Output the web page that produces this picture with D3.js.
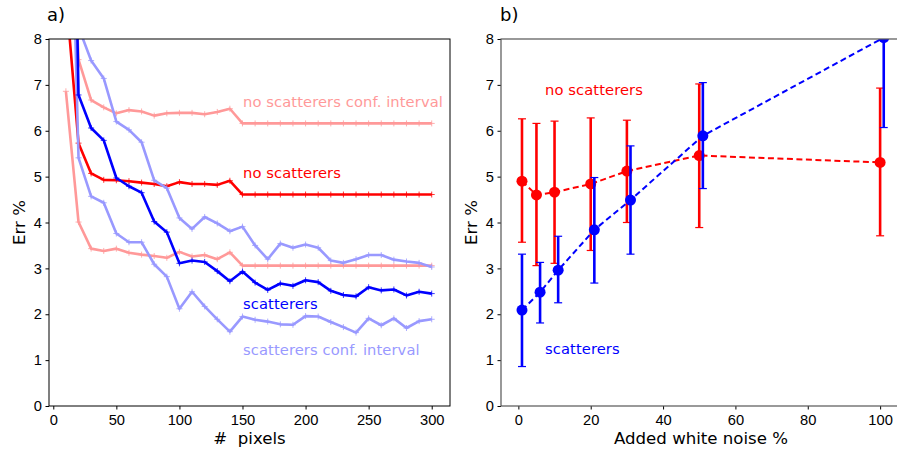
<!DOCTYPE html>
<html>
<head>
<meta charset="utf-8">
<script src="https://cdn.jsdelivr.net/npm/d3@7"></script>
<style>
  body { margin: 0; background: #fff; }
  svg { font-family: "DejaVu Sans", sans-serif; }
</style>
</head>
<body>
<div id="chart"></div>
<script>
// Panel a) : error vs number of pixels
const pixels = d3.range(10, 301, 10);

const noScatt      = [9.0, 5.73, 5.07, 4.93, 4.92, 4.90, 4.87, 4.84, 4.79, 4.88, 4.84, 4.84, 4.82, 4.91, 4.61,
                      4.61, 4.61, 4.61, 4.61, 4.61, 4.61, 4.61, 4.61, 4.61, 4.61, 4.61, 4.61, 4.61, 4.61, 4.61];
const noScattHi    = [14, 7.55, 6.67, 6.51, 6.38, 6.45, 6.42, 6.33, 6.38, 6.39, 6.39, 6.36, 6.41, 6.48, 6.16,
                      6.16, 6.16, 6.16, 6.16, 6.16, 6.16, 6.16, 6.16, 6.16, 6.16, 6.16, 6.16, 6.16, 6.16, 6.16];
const noScattLo    = [6.86, 4.01, 3.43, 3.38, 3.43, 3.34, 3.30, 3.27, 3.23, 3.36, 3.26, 3.29, 3.20, 3.35, 3.06,
                      3.06, 3.06, 3.06, 3.06, 3.06, 3.06, 3.06, 3.06, 3.06, 3.06, 3.06, 3.06, 3.06, 3.06, 3.06];
const scatt        = [22, 6.78, 6.06, 5.79, 4.97, 4.79, 4.65, 4.02, 3.79, 3.11, 3.17, 3.14, 2.94, 2.72, 2.93,
                      2.69, 2.53, 2.67, 2.62, 2.74, 2.70, 2.51, 2.42, 2.39, 2.59, 2.52, 2.54, 2.41, 2.49, 2.45];
const scattHi      = [28, 8.26, 7.53, 7.14, 6.20, 6.02, 5.75, 4.92, 4.75, 4.10, 3.86, 4.12, 3.98, 3.81, 3.91,
                      3.50, 3.20, 3.54, 3.45, 3.52, 3.45, 3.17, 3.12, 3.20, 3.29, 3.29, 3.19, 3.15, 3.12, 3.03];
const scattLo      = [16, 5.41, 4.57, 4.43, 3.76, 3.57, 3.57, 3.09, 2.82, 2.12, 2.49, 2.17, 1.89, 1.62, 1.95,
                      1.88, 1.84, 1.78, 1.77, 1.96, 1.95, 1.83, 1.72, 1.60, 1.91, 1.76, 1.91, 1.70, 1.85, 1.89];

// Panel b) : error vs added white noise
const noiseRed   = [1, 5, 10, 20, 30, 50, 100];
const errRed     = [4.90, 4.60, 4.66, 4.84, 5.12, 5.46, 5.31];
const errRedLo   = [3.57, 3.06, 3.11, 3.39, 4.00, 3.89, 3.71];
const errRedHi   = [6.26, 6.16, 6.21, 6.28, 6.23, 7.02, 6.93];
const noiseBlue  = [1, 6, 11, 21, 31, 51, 101];
const errBlue    = [2.09, 2.48, 2.96, 3.84, 4.49, 5.89, 8.03];
const errBlueLo  = [0.86, 1.81, 2.25, 2.68, 3.31, 4.74, 6.07];
const errBlueHi  = [3.31, 3.13, 3.70, 4.98, 5.67, 7.05, 9.9];

// tick labels
const yTicks = [0, 1, 2, 3, 4, 5, 6, 7, 8];
const pixelTicks = [0, 50, 100, 150, 200, 250, 300];
const noiseTicks = [0, 20, 40, 60, 80, 100];

const W = 897, H = 452;
const FS = "14.7px";      // ticks + in-plot labels
const FS_AXIS = "16.6px"; // axis titles
const plotTop = 39, plotBottom = 406;

const svg = d3.select("#chart").append("svg")
    .attr("width", W)
    .attr("height", H);

const y = d3.scaleLinear().domain([0, 8]).range([plotBottom, plotTop]);

// ---- panel a ----
const xA = d3.scaleLinear().domain([-3.4, 314.5]).range([49, 450]);

svg.append("clipPath").attr("id", "clipA")
  .append("rect").attr("x", 49).attr("y", plotTop).attr("width", 401).attr("height", plotBottom - plotTop);

const gA = svg.append("g").attr("clip-path", "url(#clipA)");

const lineA = vals => d3.line()
    .x((d, i) => xA(pixels[i]))
    .y(d => y(d))(vals);

const seriesA = [
  { vals: noScattHi, color: "#ff9999" },
  { vals: noScattLo, color: "#ff9999" },
  { vals: noScatt,   color: "#ff0000" },
  { vals: scattHi,   color: "#9999ff" },
  { vals: scattLo,   color: "#9999ff" },
  { vals: scatt,     color: "#0000ff" }
];

seriesA.forEach(s => {
  gA.append("path")
    .attr("d", lineA(s.vals))
    .attr("fill", "none")
    .attr("stroke", s.color)
    .attr("stroke-width", 2.6)
    .attr("stroke-linejoin", "round");

  // small "+" markers
  gA.selectAll(null)
    .data(s.vals)
    .join("path")
    .attr("transform", (d, i) => `translate(${xA(pixels[i])},${y(d)})`)
    .attr("d", "M-3,0H3M0,-3V3")
    .attr("stroke", s.color)
    .attr("stroke-width", 0.8);
});

// axes a
svg.append("g").attr("transform", "translate(49,0)")
  .call(d3.axisLeft(y).tickValues(yTicks).tickSize(3.5).tickPadding(3.5).tickFormat(d3.format("d")));
svg.append("g").attr("transform", `translate(0,${plotBottom})`)
  .call(d3.axisBottom(xA).tickValues(pixelTicks).tickSize(3.5).tickPadding(5.5).tickFormat(d3.format("d")));

svg.append("rect")
  .attr("x", 49).attr("y", plotTop).attr("width", 401).attr("height", plotBottom - plotTop)
  .attr("fill", "none").attr("stroke", "#000").attr("stroke-width", 1);

// labels a
const labelsA = [
  { t: "no scatterers conf. interval", x: 243, y: 107, c: "#ff9999" },
  { t: "no scatterers",                x: 243, y: 178, c: "#ff0000" },
  { t: "scatterers",                   x: 243, y: 309, c: "#0000ff" },
  { t: "scatterers conf. interval",    x: 243, y: 355, c: "#9999ff" }
];
labelsA.forEach(l => {
  svg.append("text").attr("x", l.x).attr("y", l.y)
    .attr("fill", l.c).style("font-size", FS).style("letter-spacing", "0.1px").text(l.t);
});

svg.append("text").attr("x", 47).attr("y", 21).style("font-size", "18px").text("a)");
svg.append("text").attr("x", 249.5).attr("y", 444).attr("text-anchor", "middle")
  .style("font-size", FS_AXIS).style("white-space", "pre").text("#  pixels");
svg.append("text").attr("transform", "translate(25,222.5) rotate(-90)")
  .attr("text-anchor", "middle").style("font-size", FS_AXIS).text("Err %");

// ---- panel b ----
const xB = d3.scaleLinear().domain([-4.8, 106.05]).range([501, 902]);

svg.append("clipPath").attr("id", "clipB")
  .append("rect").attr("x", 501).attr("y", plotTop).attr("width", 401).attr("height", plotBottom - plotTop);

const gB = svg.append("g").attr("clip-path", "url(#clipB)");

function drawErrSeries(xs, vals, lo, hi, color) {
  const pts = xs.map((x, i) => ({ x, v: vals[i], lo: lo[i], hi: hi[i] }));

  // error bars
  pts.forEach(p => {
    gB.append("line")
      .attr("x1", xB(p.x)).attr("x2", xB(p.x))
      .attr("y1", y(p.lo)).attr("y2", y(p.hi))
      .attr("stroke", color).attr("stroke-width", 2.6);
    [p.lo, p.hi].forEach(e => {
      gB.append("line")
        .attr("x1", xB(p.x) - 4).attr("x2", xB(p.x) + 4)
        .attr("y1", y(e)).attr("y2", y(e))
        .attr("stroke", color).attr("stroke-width", 1.2);
    });
  });

  // dashed connecting line
  gB.append("path")
    .attr("d", d3.line().x(p => xB(p.x)).y(p => y(p.v))(pts))
    .attr("fill", "none")
    .attr("stroke", color)
    .attr("stroke-width", 2)
    .attr("stroke-dasharray", "6,3.5");

  gB.selectAll(null)
    .data(pts)
    .join("circle")
    .attr("cx", p => xB(p.x))
    .attr("cy", p => y(p.v))
    .attr("r", 5.5)
    .attr("fill", color);
}

drawErrSeries(noiseRed, errRed, errRedLo, errRedHi, "#ff0000");
drawErrSeries(noiseBlue, errBlue, errBlueLo, errBlueHi, "#0000ff");

svg.append("g").attr("transform", "translate(501,0)")
  .call(d3.axisLeft(y).tickValues(yTicks).tickSize(3.5).tickPadding(3.5).tickFormat(d3.format("d")));
svg.append("g").attr("transform", `translate(0,${plotBottom})`)
  .call(d3.axisBottom(xB).tickValues(noiseTicks).tickSize(3.5).tickPadding(5.5).tickFormat(d3.format("d")));

svg.append("rect")
  .attr("x", 501).attr("y", plotTop).attr("width", 401).attr("height", plotBottom - plotTop)
  .attr("fill", "none").attr("stroke", "#555").attr("stroke-width", 1.2);

svg.append("text").attr("x", 545).attr("y", 95)
  .attr("fill", "#ff0000").style("font-size", FS).style("letter-spacing", "0.1px").text("no scatterers");
svg.append("text").attr("x", 545).attr("y", 354)
  .attr("fill", "#0000ff").style("font-size", FS).style("letter-spacing", "0.1px").text("scatterers");

svg.append("text").attr("x", 500).attr("y", 21).style("font-size", "18px").text("b)");
svg.append("text").attr("x", 701).attr("y", 444).attr("text-anchor", "middle")
  .style("font-size", FS_AXIS).text("Added white noise %");
svg.append("text").attr("transform", "translate(477,222.5) rotate(-90)")
  .attr("text-anchor", "middle").style("font-size", FS_AXIS).text("Err %");

// axis styling, matplotlib-ish
svg.selectAll(".domain").remove();
svg.selectAll(".tick text").style("font-size", FS).attr("fill", "#000");
svg.selectAll(".tick line").attr("stroke", "#000");
</script>
</body>
</html>
